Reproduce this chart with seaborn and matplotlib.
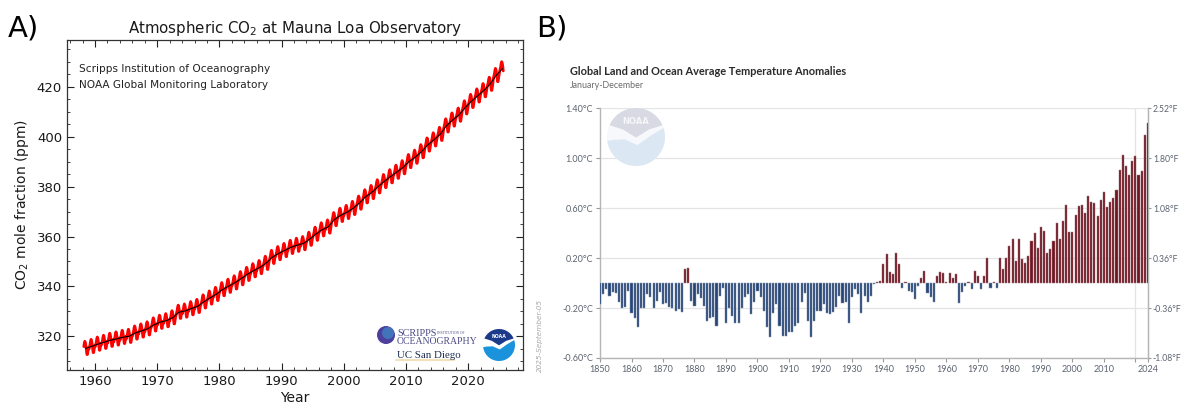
import numpy as np
import pandas as pd
import matplotlib
matplotlib.use("Agg")
import matplotlib.pyplot as plt
from matplotlib.patches import Circle, Polygon
from matplotlib.ticker import MultipleLocator, FixedLocator
import seaborn as sns

# ---------------- Mauna Loa CO2 record (ppm) ----------------
co2_years = list(range(1958, 2026))
co2_annual_mean = [
    315.20, 315.98, 316.91, 317.64, 318.45, 318.99, 319.62, 320.04, 321.37, 322.18,
    323.05, 324.62, 325.68, 326.32, 327.46, 329.68, 330.19, 331.13, 332.03, 333.84,
    335.41, 336.84, 338.76, 340.12, 341.48, 343.15, 344.87, 346.35, 347.61, 349.31,
    351.69, 353.20, 354.45, 355.70, 356.54, 357.21, 358.96, 360.97, 362.74, 363.88,
    366.84, 368.54, 369.71, 371.32, 373.45, 375.98, 377.70, 379.98, 382.09, 384.02,
    385.83, 387.64, 390.10, 391.85, 394.06, 396.74, 398.81, 401.01, 404.41, 406.76,
    408.72, 411.65, 414.21, 416.41, 418.53, 421.08, 424.61, 427.30,
]
# typical departure of each calendar month from its year's mean (Jan..Dec)
co2_month_departure = [-1.1, -0.2, 0.7, 2.1, 2.8, 2.3, 1.0, -0.9, -2.5, -2.5, -1.1, 0.3]
co2_first_month = 3   # record begins March 1958
co2_last_month = 8    # latest month shown: August 2025

# ---------------- NOAA global land+ocean anomalies (degC) ----------------
temp_years = list(range(1850, 2025))
temp_anomaly = [
    -0.17, -0.09, -0.05, -0.10, -0.07, -0.08, -0.15, -0.20, -0.19, -0.06,   # 1850s
    -0.24, -0.28, -0.35, -0.20, -0.20, -0.09, -0.11, -0.20, -0.14, -0.07,   # 1860s
    -0.17, -0.16, -0.19, -0.20, -0.22, -0.21, -0.23, 0.11, 0.12, -0.14,     # 1870s
    -0.18, -0.09, -0.12, -0.18, -0.30, -0.28, -0.27, -0.34, -0.10, -0.04,   # 1880s
    -0.32, -0.20, -0.26, -0.32, -0.32, -0.20, -0.11, -0.09, -0.25, -0.15,   # 1890s
    -0.06, -0.11, -0.22, -0.35, -0.43, -0.24, -0.17, -0.34, -0.42, -0.42,   # 1900s
    -0.39, -0.39, -0.34, -0.32, -0.15, -0.08, -0.30, -0.43, -0.30, -0.22,   # 1910s
    -0.22, -0.17, -0.24, -0.25, -0.23, -0.19, -0.10, -0.16, -0.15, -0.32,   # 1920s
    -0.11, -0.05, -0.09, -0.24, -0.10, -0.15, -0.10, -0.01, 0.01, 0.02,     # 1930s
    0.15, 0.23, 0.09, 0.07, 0.24, 0.15, -0.04, 0.01, -0.06, -0.07,          # 1940s
    -0.13, -0.02, 0.045, 0.10, -0.08, -0.11, -0.15, 0.06, 0.09, 0.08,       # 1950s
    0.01, 0.08, 0.045, 0.07, -0.16, -0.075, -0.025, 0.01, -0.05, 0.10,      # 1960s
    0.06, -0.05, 0.06, 0.20, -0.04, 0.01, -0.04, 0.20, 0.11, 0.20,          # 1970s
    0.30, 0.35, 0.18, 0.35, 0.19, 0.16, 0.22, 0.34, 0.40, 0.28,             # 1980s
    0.45, 0.42, 0.24, 0.27, 0.34, 0.48, 0.35, 0.50, 0.63, 0.41,             # 1990s
    0.41, 0.55, 0.62, 0.63, 0.56, 0.70, 0.65, 0.64, 0.54, 0.67,             # 2000s
    0.73, 0.61, 0.65, 0.68, 0.75, 0.91, 1.03, 0.94, 0.87, 0.98,             # 2010s
    1.02, 0.87, 0.90, 1.19, 1.28,                                           # 2020s
]
temp_c_ticks = [-0.60, -0.20, 0.20, 0.60, 1.00, 1.40]
temp_year_ticks = [1850, 1860, 1870, 1880, 1890, 1900, 1910, 1920, 1930,
                   1940, 1950, 1960, 1970, 1980, 1990, 2000, 2010, 2024]
temp_grid_years = list(range(1850, 2021, 10))

# ---------------- styling ----------------
sns.set_style("ticks")
plt.rcParams["font.family"] = ["DejaVu Sans"]
NARROW = ["Liberation Sans Narrow", "Lato", "DejaVu Sans"]
GREY_TXT = "#5d6470"

fig = plt.figure(figsize=(11.83, 4.03), dpi=100)

# ======================= Panel A: Keeling curve =======================
months, values = [], []
for yr, mean in zip(co2_years, co2_annual_mean):
    m0 = co2_first_month if yr == co2_years[0] else 1
    m1 = co2_last_month if yr == co2_years[-1] else 12
    for m in range(m0, m1 + 1):
        months.append(yr + (m - 0.5) / 12.0)
        values.append(mean + co2_month_departure[m - 1])
co2_monthly = pd.DataFrame({"time": months, "co2": values})
co2_trend = pd.DataFrame({"time": [y + 0.5 for y in co2_years], "co2": co2_annual_mean})

axA = fig.add_axes([0.0566, 0.0819, 0.3855, 0.8189])
sns.lineplot(data=co2_monthly, x="time", y="co2", color="red", lw=2.0,
             estimator=None, ax=axA)
sns.lineplot(data=co2_trend, x="time", y="co2", color="black", lw=0.8,
             estimator=None, ax=axA)
axA.set_xlim(1955.5, 2028.8)
axA.set_ylim(306.5, 438.8)
axA.xaxis.set_major_locator(MultipleLocator(10))
axA.xaxis.set_minor_locator(MultipleLocator(2))
axA.yaxis.set_major_locator(MultipleLocator(20))
axA.yaxis.set_minor_locator(MultipleLocator(5))
axA.tick_params(which="both", direction="in", top=True, right=True, colors="#222222")
axA.tick_params(which="major", length=5, width=0.8, labelsize=9.5, labelcolor="#1a1a1a")
axA.tick_params(which="minor", length=2.5, width=0.6)
for s in axA.spines.values():
    s.set_color("#333333")
    s.set_linewidth(0.9)
axA.set_xlabel("Year", fontsize=10, color="#1a1a1a", labelpad=2)
axA.set_ylabel("CO$_2$ mole fraction (ppm)", fontsize=10, color="#1a1a1a", labelpad=4)
axA.set_title("Atmospheric CO$_2$ at Mauna Loa Observatory", fontsize=10.8,
              color="#1a1a1a", pad=5)
axA.text(0.026, 0.903, "Scripps Institution of Oceanography", transform=axA.transAxes,
         fontsize=7.6, color="#222222", va="baseline")
axA.text(0.026, 0.855, "NOAA Global Monitoring Laboratory", transform=axA.transAxes,
         fontsize=7.6, color="#222222", va="baseline")

# ======================= Panel B: temperature anomalies =======================
temp_df = pd.DataFrame({"year": temp_years, "anomaly": temp_anomaly})
temp_df["sign"] = np.where(temp_df["anomaly"] >= 0, "warm", "cool")
WARM, COOL = "#741220", "#284675"
WARM_EDGE, COOL_EDGE = "#9a7a7f", "#8293ae"

axB = fig.add_axes([0.5072, 0.1117, 0.4632, 0.6191])
sns.barplot(data=temp_df, x="year", y="anomaly", hue="sign",
            palette={"warm": WARM, "cool": COOL}, native_scale=True,
            dodge=False, width=0.66, legend=False, saturation=1, ax=axB,
            zorder=3, linewidth=0.35)
for bar in axB.patches:
    bar.set_edgecolor(WARM_EDGE if bar.get_height() >= 0 else COOL_EDGE)

axB.set_xlim(1850, 2024)
axB.set_ylim(temp_c_ticks[0], temp_c_ticks[-1])
axB.set_axisbelow(True)
axB.yaxis.set_major_locator(FixedLocator(temp_c_ticks))
axB.set_yticklabels([f"{v:.2f}\u00b0C" for v in temp_c_ticks], fontfamily=NARROW,
                    fontsize=6.5, color=GREY_TXT)
axB.xaxis.set_major_locator(FixedLocator(temp_year_ticks))
axB.xaxis.set_minor_locator(FixedLocator(temp_grid_years))
axB.set_xticklabels([str(y) for y in temp_year_ticks], fontfamily=NARROW,
                    fontsize=6.5, color=GREY_TXT)
axB.grid(axis="y", which="major", color="#e4e4e4", lw=0.9, zorder=0)
axB.grid(axis="x", which="minor", color="#e4e4e4", lw=0.9, zorder=0)
axB.tick_params(which="both", direction="out", length=3, width=0.8, color="#9a9a9a",
                pad=2)
axB.set_xlabel("")
axB.set_ylabel("")
for side in ("left", "bottom", "right"):
    axB.spines[side].set_color("#b5b5b5")
    axB.spines[side].set_linewidth(1.0)
axB.spines["top"].set_visible(False)

# Fahrenheit scale on the right
axF = axB.twinx()
axF.set_ylim(temp_c_ticks[0] * 1.8, temp_c_ticks[-1] * 1.8)
f_ticks = [c * 1.8 for c in temp_c_ticks]
axF.yaxis.set_major_locator(FixedLocator(f_ticks))
axF.set_yticklabels([f"{v:.2f}\u00b0F" for v in f_ticks], fontfamily=NARROW,
                    fontsize=6.2, color=GREY_TXT)
axF.tick_params(direction="out", length=2.5, width=0.8, color="#9a9a9a", pad=1)
axF.grid(False)
for side in ("left", "bottom", "top"):
    axF.spines[side].set_visible(False)
axF.spines["right"].set_color("#b5b5b5")

# ======================= titles, labels, emblems =======================
ov = fig.add_axes([0, 0, 1, 1], zorder=10)
ov.set_xlim(0, 1183)
ov.set_ylim(403, 0)
ov.axis("off")

ov.text(8, 37, "A)", fontsize=21, color="black", va="baseline")
ov.text(536, 37, "B)", fontsize=21, color="black", va="baseline")
ov.text(570, 75, "Global Land and Ocean Average Temperature Anomalies",
        fontsize=7.9, fontweight="bold", fontfamily=NARROW, color="#2b2b2b",
        va="baseline")
ov.text(570, 88.5, "January-December", fontsize=6.4, fontfamily=NARROW,
        color="#6b6b6b", va="baseline")
ov.text(540, 335, "2025-September-05", fontsize=5.2, color="#a8a8a8",
        rotation=90, ha="center", va="center", fontstyle="italic")


def emblem(ax, cx, cy, r, top, bottom, gap, letters, fs):
    def to_px(seq):
        return [(cx + r * u, cy - r * v) for u, v in seq]
    ax.add_patch(Circle((cx, cy), r, facecolor=gap, edgecolor="none"))
    th = np.radians(np.linspace(24, 156, 40))
    upper = list(zip(np.cos(th), np.sin(th)))
    upper += [(-0.45, 0.26), (0.0, -0.02), (0.45, 0.26)]
    ax.add_patch(Polygon(to_px(upper), closed=True, facecolor=top, edgecolor="none"))
    th = np.radians(np.linspace(188, 378, 60))
    lower = list(zip(np.cos(th), np.sin(th)))
    lower += [(0.5, 0.04), (0.05, -0.28), (-0.4, -0.08), (-0.8, -0.1)]
    ax.add_patch(Polygon(to_px(lower), closed=True, facecolor=bottom, edgecolor="none"))
    ax.text(cx, cy - 0.55 * r, "NOAA", fontsize=fs, fontweight="bold", color=letters,
            ha="center", va="center")


# faint emblem in panel B
emblem(ov, 636, 137, 29, top="#d7dae2", bottom="#dce7f4", gap="#f6f8fb",
       letters="#f4f6f9", fs=6)
# emblem in panel A
emblem(ov, 499, 345, 16, top="#1c3a8a", bottom="#1a92dc", gap="white",
       letters="white", fs=3.3)

# Scripps / UC San Diego marks
ov.add_patch(Circle((386, 335), 9, facecolor="#4d3f9c", edgecolor="none"))
ov.add_patch(Circle((388, 333), 6, facecolor="#3d86c6", edgecolor="none", alpha=0.75))
SERIF = ["Liberation Serif", "DejaVu Serif"]
ov.text(397, 336, "SCRIPPS", fontsize=7.4, fontfamily=SERIF, color="#4b4b86",
        va="baseline")
ov.text(437, 334, "INSTITUTION OF", fontsize=2.6, fontfamily=SERIF, color="#4b4b86",
        va="baseline")
ov.text(397, 343.5, "OCEANOGRAPHY", fontsize=7.0, fontfamily=SERIF, color="#4b4b86",
        va="baseline")
ov.plot([396, 454], [360, 360], color="#efe2bd", lw=1.5)
ov.text(397, 358, "UC San Diego", fontsize=7.8, fontfamily=SERIF, color="#1b2d4f",
        va="baseline")

fig.savefig("out.png", dpi=100)
